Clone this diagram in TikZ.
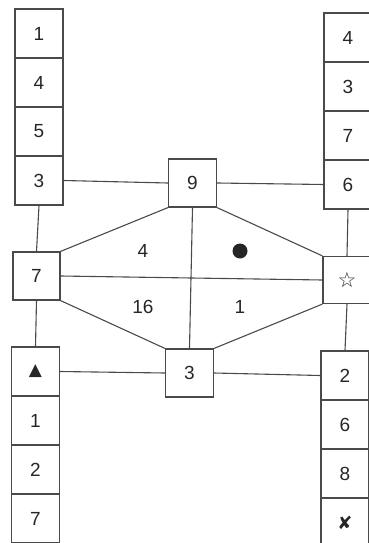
\documentclass[tikz,border=0pt]{standalone}
\usepackage{fontspec}
\setmainfont{Liberation Sans}
\newfontfamily\symfont{DejaVu Sans}
\definecolor{ln}{HTML}{4A4A4A}
\begin{document}
\begin{tikzpicture}[x=1pt,y=-1pt,
  cell/.style={draw=ln,line width=1.2pt,minimum width=48pt,minimum height=49pt,inner sep=0pt,font=\fontsize{19}{19}\selectfont,text=black!85},
  conn/.style={draw=ln,line width=1.1pt},
  lab/.style={inner sep=0pt,font=\fontsize{19}{19}\selectfont,text=black!85}]
\useasboundingbox (0,0) rectangle (369,543);
% left top column
\node[cell] (L1) at (39,33.5) {1};
\node[cell] (L2) at (39,82.5) {4};
\node[cell] (L3) at (39,131.5) {5};
\node[cell] (L4) at (39,180.5) {3};
% left middle
\node[cell,minimum width=47pt,minimum height=48pt] (seven) at (36.5,276) {7};
% left bottom column
\node[cell] (B1) at (35.5,371.5) {\symfont\fontsize{17}{17}\selectfont ▲};
\node[cell] (B2) at (35.5,420.5) {1};
\node[cell] (B3) at (35.5,469.5) {2};
\node[cell] (B4) at (35.5,518.5) {7};
% right top column
\node[cell] (R1) at (348,37.5) {4};
\node[cell] (R2) at (348,86.5) {3};
\node[cell] (R3) at (348,135.5) {7};
\node[cell] (R4) at (348,184.5) {6};
% right middle
\node[cell,minimum height=47pt] (star) at (347,280) {\symfont\fontsize{21}{21}\selectfont\textbf{☆}};
% right bottom column
\node[cell] (S1) at (345,375.5) {2};
\node[cell] (S2) at (345,424.5) {6};
\node[cell] (S3) at (345,473.5) {8};
\node[cell] (S4) at (345,522.5) {\symfont\fontsize{18}{18}\selectfont ✘};
% centre boxes
\node[cell,minimum height=48pt] (nine) at (192.5,183) {9};
\node[cell,minimum height=48pt] (three) at (189.5,373) {3};
% connectors
\draw[conn] (L4.south) -- (seven.north);
\draw[conn] (seven.south) -- (B1.north);
\draw[conn] (R4.south) -- (star.north);
\draw[conn] (star.south) -- (S1.north);
\draw[conn] (L4.east) -- (nine.west);
\draw[conn] (nine.east) -- (R4.west);
\draw[conn] (B1.east) -- (three.west);
\draw[conn] (three.east) -- (S1.west);
\draw[conn] (seven.east) -- (star.west);
\draw[conn] (nine.south) -- (three.north);
\draw[conn] (seven.north east) -- (nine.south west);
\draw[conn] (nine.south east) -- (star.north west);
\draw[conn] (seven.south east) -- (three.north west);
\draw[conn] (three.north east) -- (star.south west);
% region labels
\node[lab] (a) at (143,251) {4};
\node[circle,fill=black!85,minimum size=15pt,inner sep=0pt] (b) at (240,251) {};
\node[lab] (c) at (143,307) {16};
\node[lab] (d) at (240,307) {1};
\end{tikzpicture}
\end{document}
